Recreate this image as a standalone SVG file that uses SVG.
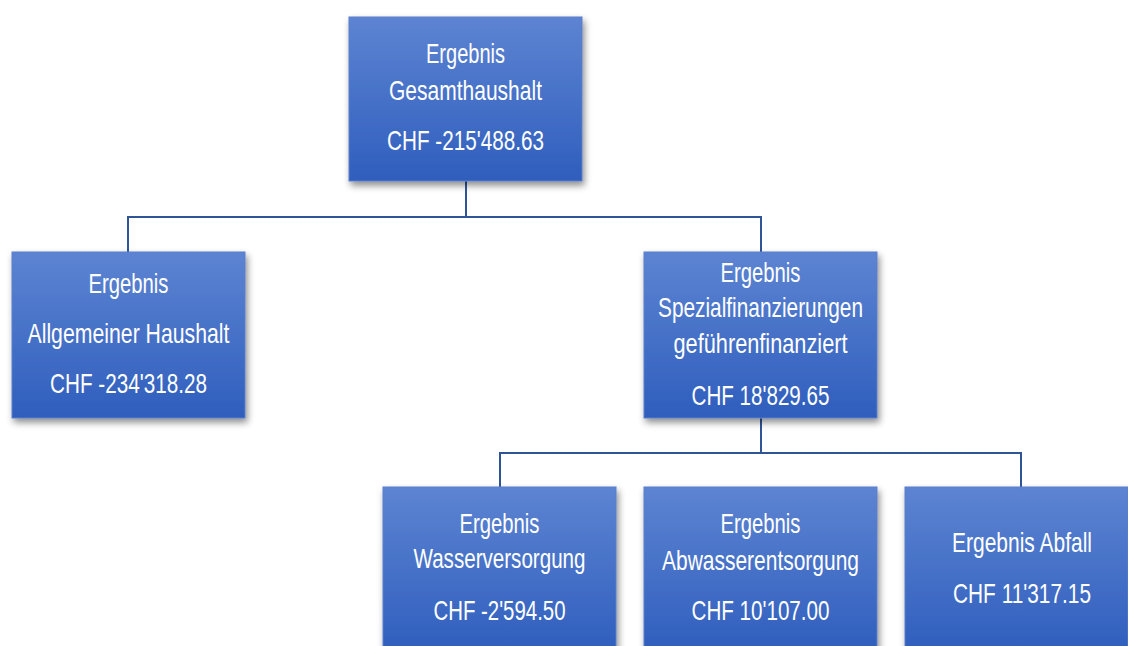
<svg xmlns="http://www.w3.org/2000/svg" width="1128" height="646" viewBox="0 0 1128 646">
<defs>
<linearGradient id="g" x1="0" y1="0" x2="0" y2="1">
<stop offset="0" stop-color="#5d84d2"/>
<stop offset="1" stop-color="#2f5ebd"/>
</linearGradient>
<filter id="sh" x="-10%" y="-10%" width="130%" height="130%">
<feDropShadow dx="2" dy="4" stdDeviation="3.5" flood-color="#000" flood-opacity="0.45"/>
</filter>
<style>
.box{fill:url(#g);stroke:#5a7fc9;stroke-width:1;filter:url(#sh)}
.t{font-family:"Liberation Sans",Arial,sans-serif;font-size:28px;fill:#ffffff;text-anchor:middle}
.c{fill:none;stroke:#2f5597;stroke-width:2}
</style>
</defs>
<rect width="1128" height="646" fill="#ffffff"/>
<g id="connectors">
<path class="c" d="M466 181 V217 M128 252 V217 H761 V252"/>
<path class="c" d="M761 418 V453 M500 487 V453 H1021 V487"/>
</g>
<g id="n-gesamt">
<rect class="box" x="349" y="17" width="233" height="164"/>
<text class="t" x="465.5" y="63" textLength="79" lengthAdjust="spacingAndGlyphs">Ergebnis</text>
<text class="t" x="465.5" y="100" textLength="153" lengthAdjust="spacingAndGlyphs">Gesamthaushalt</text>
<text class="t" x="465.5" y="150" textLength="157" lengthAdjust="spacingAndGlyphs">CHF -215'488.63</text>
</g>
<g id="n-allgemein">
<rect class="box" x="12" y="252" width="233" height="166"/>
<text class="t" x="128.5" y="293" textLength="80" lengthAdjust="spacingAndGlyphs">Ergebnis</text>
<text class="t" x="128.5" y="343" textLength="202" lengthAdjust="spacingAndGlyphs">Allgemeiner Haushalt</text>
<text class="t" x="128.5" y="393" textLength="157" lengthAdjust="spacingAndGlyphs">CHF -234'318.28</text>
</g>
<g id="n-spezial">
<rect class="box" x="644" y="252" width="233" height="166"/>
<text class="t" x="760.5" y="282" textLength="80" lengthAdjust="spacingAndGlyphs">Ergebnis</text>
<text class="t" x="760.5" y="317" textLength="205" lengthAdjust="spacingAndGlyphs">Spezialfinanzierungen</text>
<text class="t" x="760.5" y="353" textLength="174" lengthAdjust="spacingAndGlyphs">geführenfinanziert</text>
<text class="t" x="760.5" y="405" textLength="138" lengthAdjust="spacingAndGlyphs">CHF 18'829.65</text>
</g>
<g id="n-wasser">
<rect class="box" x="383" y="487" width="233" height="166"/>
<text class="t" x="499.5" y="533" textLength="80" lengthAdjust="spacingAndGlyphs">Ergebnis</text>
<text class="t" x="499.5" y="568" textLength="172" lengthAdjust="spacingAndGlyphs">Wasserversorgung</text>
<text class="t" x="499.5" y="620" textLength="132" lengthAdjust="spacingAndGlyphs">CHF -2'594.50</text>
</g>
<g id="n-abwasser">
<rect class="box" x="644" y="487" width="233" height="166"/>
<text class="t" x="760.5" y="533" textLength="80" lengthAdjust="spacingAndGlyphs">Ergebnis</text>
<text class="t" x="760.5" y="570" textLength="197" lengthAdjust="spacingAndGlyphs">Abwasserentsorgung</text>
<text class="t" x="760.5" y="620" textLength="138" lengthAdjust="spacingAndGlyphs">CHF 10'107.00</text>
</g>
<g id="n-abfall">
<rect class="box" x="905" y="487" width="223" height="166"/>
<text class="t" x="1022" y="552" textLength="140" lengthAdjust="spacingAndGlyphs">Ergebnis Abfall</text>
<text class="t" x="1022" y="603" textLength="138" lengthAdjust="spacingAndGlyphs">CHF 11'317.15</text>
</g>
</svg>
